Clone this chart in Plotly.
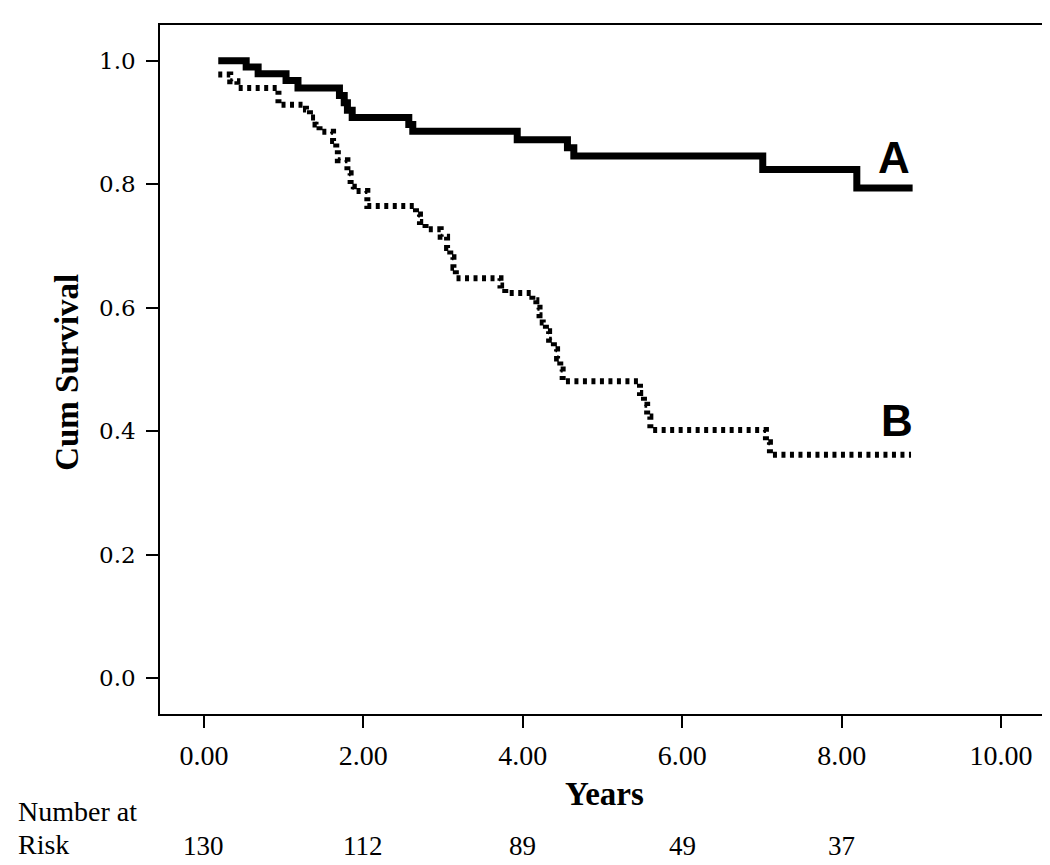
import plotly.graph_objects as go

# Kaplan-Meier step data (years, cumulative survival)
a_years = [0.18, 0.53, 0.68, 1.03, 1.18, 1.70, 1.76, 1.80, 1.86, 2.57, 2.62,
           3.93, 4.56, 4.64, 7.01, 8.19, 8.89]
a_surv = [1.0, 0.990, 0.979, 0.968, 0.956, 0.944, 0.932, 0.920, 0.908, 0.897,
          0.886, 0.872, 0.859, 0.846, 0.824, 0.794, 0.794]

b_years = [0.18, 0.33, 0.42, 0.935, 1.28, 1.33, 1.40, 1.45, 1.62, 1.66, 1.68,
           1.80, 1.84, 1.88, 2.05, 2.66, 2.71, 2.78, 2.97, 3.05, 3.09, 3.13,
           3.16, 3.72, 3.78, 4.12, 4.17, 4.21, 4.25, 4.29, 4.33, 4.39, 4.43,
           4.47, 4.50, 5.47, 5.52, 5.56, 5.60, 7.05, 7.10, 8.87]
b_surv = [0.978, 0.967, 0.956, 0.929, 0.921, 0.908, 0.897, 0.885, 0.870,
          0.856, 0.839, 0.818, 0.796, 0.789, 0.765, 0.751, 0.739, 0.727,
          0.715, 0.697, 0.682, 0.665, 0.648, 0.636, 0.624, 0.612, 0.600,
          0.588, 0.576, 0.562, 0.548, 0.533, 0.518, 0.500, 0.481, 0.462,
          0.443, 0.424, 0.402, 0.382, 0.362, 0.362]

x_ticks = [0, 2, 4, 6, 8, 10]
x_tick_labels = ["0.00", "2.00", "4.00", "6.00", "8.00", "10.00"]
y_ticks = [0.0, 0.2, 0.4, 0.6, 0.8, 1.0]
y_tick_labels = ["0.0", "0.2", "0.4", "0.6", "0.8", "1.0"]

risk_years = [0, 2, 4, 6, 8]
risk_numbers = [130, 112, 89, 49, 37]

curve_labels = ["A", "B"]
label_pos_x = [8.66, 8.69]
label_pos_y = [0.843, 0.418]

fig = go.Figure()
fig.add_trace(go.Scatter(x=a_years, y=a_surv, mode="lines", line_shape="hv",
                         line=dict(color="black", width=7), showlegend=False))
fig.add_trace(go.Scatter(x=b_years, y=b_surv, mode="lines", line_shape="hv",
                         line=dict(color="black", width=6, dash="4px,4.5px"),
                         showlegend=False))

annotations = []
for lab, lx, ly in zip(curve_labels, label_pos_x, label_pos_y):
    annotations.append(dict(x=lx, y=ly, xref="x", yref="y", text=f"<b>{lab}</b>",
                            showarrow=False, font=dict(family="Liberation Sans", size=44, color="black")))

annotations.append(dict(x=0.503, y=-0.116, xref="paper", yref="paper", text="<b>Years</b>",
                        showarrow=False, xanchor="center", yanchor="middle",
                        font=dict(family="Liberation Serif", size=33, color="black")))
annotations.append(dict(x=-0.106, y=0.4956, xref="paper", yref="paper", text="<b>Cum Survival</b>",
                        showarrow=False, textangle=-90, xanchor="center", yanchor="middle",
                        font=dict(family="Liberation Serif", size=33, color="black")))
annotations.append(dict(x=-0.1625, y=-0.1408, xref="paper", yref="paper", text="Number at",
                        showarrow=False, xanchor="left", yanchor="middle",
                        font=dict(family="Liberation Serif", size=28, color="black")))
annotations.append(dict(x=-0.1625, y=-0.190, xref="paper", yref="paper", text="Risk",
                        showarrow=False, xanchor="left", yanchor="middle",
                        font=dict(family="Liberation Serif", size=28, color="black")))
for rx, rn in zip(risk_years, risk_numbers):
    annotations.append(dict(x=rx, y=-0.192, xref="x", yref="paper", text=str(rn),
                            showarrow=False, xanchor="center", yanchor="middle",
                            font=dict(family="Liberation Serif", size=27, color="black")))

fig.update_layout(
    width=1050, height=865,
    margin=dict(l=152, r=12, t=17, b=159),
    paper_bgcolor="white", plot_bgcolor="white",
    annotations=annotations,
    xaxis=dict(range=[-0.551, 10.538], tickvals=x_ticks, ticktext=x_tick_labels,
               showgrid=False, zeroline=False, showline=True, linecolor="black",
               linewidth=1.5, mirror=True, ticks="outside", ticklen=12, tickwidth=1.5,
               tickcolor="black", ticklabelstandoff=4,
               tickfont=dict(family="Liberation Serif", size=28, color="black")),
    yaxis=dict(range=[-0.058, 1.058], tickvals=y_ticks, ticktext=y_tick_labels,
               showgrid=False, zeroline=False, showline=True, linecolor="black",
               linewidth=1.5, mirror=True, ticks="outside", ticklen=12, tickwidth=1.5,
               tickcolor="black", ticklabelstandoff=6,
               tickfont=dict(family="DejaVu Serif", size=23, color="black")),
)

fig.write_html("out.html")
